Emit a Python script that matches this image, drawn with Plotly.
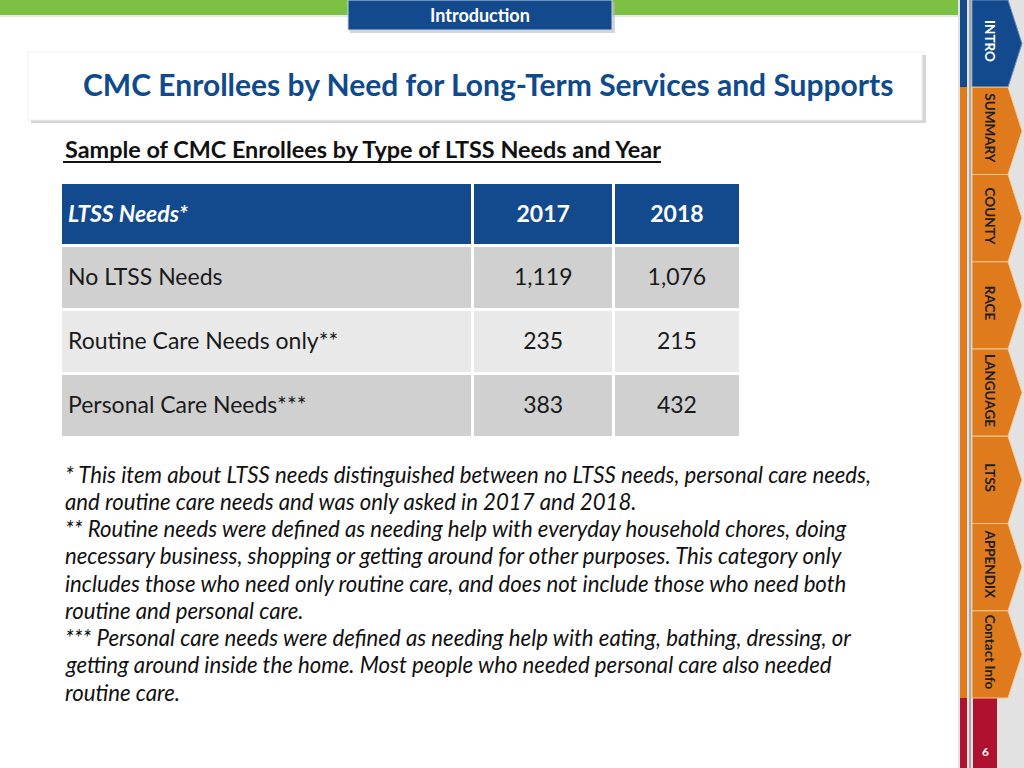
import plotly.graph_objects as go

# ---- data ----
needs = ["No LTSS Needs", "Routine Care Needs only**", "Personal Care Needs***"]
y2017 = [1119, 235, 383]
y2018 = [1076, 215, 432]
header = ["<b><i>LTSS Needs*</i></b>", "<b>2017</b>", "<b>2018</b>"]
tabs = ["INTRO", "SUMMARY", "COUNTY", "RACE", "LANGUAGE", "LTSS", "APPENDIX", "Contact Info"]
footnotes = [
    "* This item about LTSS needs distinguished between no LTSS needs, personal care needs,",
    "and routine care needs and was only asked in 2017 and 2018.",
    "** Routine needs were defined as needing help with everyday household chores, doing",
    "necessary business, shopping or getting around for other purposes. This category only",
    "includes those who need only routine care, and does not include those who need both",
    "routine and personal care.",
    "*** Personal care needs were defined as needing help with eating, bathing, dressing, or",
    "getting around inside the home. Most people who needed personal care also needed",
    "routine care.",
]
title = "CMC Enrollees by Need for Long-Term Services and Supports"
subtitle = "Sample of CMC Enrollees by Type of LTSS Needs and Year"
section = "Introduction"
page = "6"

FONT = "Lato"
BLUE = "#134a8e"
ORANGE = "#df7b1c"
RED = "#b0112f"
TRANSP = "rgba(0,0,0,0)"

W, H = 1024, 768
fig = go.Figure()

row_fills = ["#d0d0d0", "#e9e9e9", "#d0d0d0"]
colwidths = [412, 141, 126]

# table backgrounds
fig.add_trace(go.Table(
    domain=dict(x=[60 / W, 740 / W], y=[1 - 440 / H, 1 - 182 / H]),
    columnwidth=colwidths,
    header=dict(values=["", "", ""], fill_color=BLUE, line=dict(color="white", width=3), height=63),
    cells=dict(values=[[""] * 3] * 3, fill_color=[row_fills] * 3,
               line=dict(color="white", width=3), height=64),
))
# table text (transparent, offset to centre text vertically)
fig.add_trace(go.Table(
    domain=dict(x=[60 / W, 740 / W], y=[1 - 470 / H, 1 - 191 / H]),
    columnwidth=colwidths,
    header=dict(
        values=header,
        fill_color=TRANSP,
        line=dict(color=TRANSP, width=3),
        align=["left", "center", "center"],
        font=dict(family=FONT, size=23, color="white"),
        height=69,
    ),
    cells=dict(
        values=[needs, y2017, y2018],
        format=[None, ",d", ",d"],
        fill_color=TRANSP,
        line=dict(color=TRANSP, width=3),
        align=["left", "center", "center"],
        font=dict(family=FONT, size=23, color="#1a1a1a"),
        height=64,
    ),
))

shapes = []
# sidebar background
shapes.append(dict(type="rect", x0=958, x1=1024, y0=0, y1=768, fillcolor="#e2e2e2", line_width=0, layer="below"))
shapes.append(dict(type="rect", x0=960, x1=967, y0=0, y1=87, fillcolor=BLUE, line_width=0))
shapes.append(dict(type="rect", x0=960, x1=967, y0=87, y1=698, fillcolor=ORANGE, line_width=0))
shapes.append(dict(type="rect", x0=960, x1=967, y0=698, y1=768, fillcolor=RED, line_width=0))
shapes.append(dict(type="rect", x0=969, x1=971, y0=0, y1=768, fillcolor="#a8a8a8", line_width=0))
shapes.append(dict(type="rect", x0=973, x1=997, y0=698, y1=768, fillcolor=RED, line_width=0))

annotations = []
pitch = 698 / len(tabs)
for i, t in enumerate(tabs):
    top = i * pitch
    bot = (i + 1) * pitch
    mid = top + pitch * 0.5
    col = BLUE if i == 0 else ORANGE
    path = f"M 972,{top:.1f} L 1008,{top:.1f} L 1022,{mid:.1f} L 1008,{bot:.1f} L 972,{bot:.1f} Z"
    shapes.append(dict(type="path", path=path, fillcolor=col, line=dict(color="#f3c890" if i else "#6f8fbf", width=1)))
    annotations.append(dict(x=990, y=top + 41, xref="x", yref="y", text=f"<b>{t}</b>", textangle=90,
                            showarrow=False, font=dict(family=FONT, size=13.5,
                                                       color="white" if i == 0 else "#1e1e1e")))

annotations.append(dict(x=985, y=751, xref="x", yref="y", text=f"<b>{page}</b>", showarrow=False,
                        font=dict(family=FONT, size=12, color="white")))

# top green bar
shapes.append(dict(type="rect", x0=0, x1=958, y0=0, y1=15, fillcolor="#7cc143", line_width=0))
shapes.append(dict(type="rect", x0=0, x1=958, y0=15, y1=17, fillcolor="#e6e6e6", line_width=0))
# introduction box
shapes.append(dict(type="rect", x0=350, x1=615, y0=2, y1=33, fillcolor="#b9b9b9", line_width=0, opacity=0.6))
shapes.append(dict(type="rect", x0=348, x1=612, y0=0, y1=30, fillcolor=BLUE, line=dict(color="#c9d6e8", width=1)))
annotations.append(dict(x=480, y=15, xref="x", yref="y", text=f"<b>{section}</b>", showarrow=False,
                        font=dict(family=FONT, size=18, color="white")))
# title box
shapes.append(dict(type="rect", x0=31, x1=926, y0=55, y1=123, fillcolor="#c4c4c4", line_width=0, opacity=0.7))
shapes.append(dict(type="rect", x0=28, x1=922, y0=52, y1=120, fillcolor="white", line=dict(color="#f0f0f0", width=1)))
annotations.append(dict(x=488, y=84, xref="x", yref="y", text=f"<b>{title}</b>", showarrow=False,
                        font=dict(family=FONT, size=30, color="#0f4a8c")))
# subtitle
annotations.append(dict(x=63, y=149, xref="x", yref="y", xanchor="left", text=f"<b>{subtitle}</b>",
                        showarrow=False, font=dict(family=FONT, size=23.4, color="#111111")))
shapes.append(dict(type="line", x0=63, x1=661, y0=162, y1=162, line=dict(color="#111111", width=2)))

# footnotes
for k, line in enumerate(footnotes):
    annotations.append(dict(x=63, y=474 + k * 27.25, xref="x", yref="y", xanchor="left",
                            text=f"<i>{line}</i>", showarrow=False,
                            font=dict(family=FONT, size=22.2, color="#111111")))

fig.update_layout(
    width=W, height=H,
    margin=dict(l=0, r=0, t=0, b=0),
    paper_bgcolor="white", plot_bgcolor="rgba(0,0,0,0)",
    xaxis=dict(range=[0, W], visible=False, fixedrange=True),
    yaxis=dict(range=[H, 0], visible=False, fixedrange=True),
    shapes=shapes, annotations=annotations,
    showlegend=False,
)
fig.write_html("out.html", config={"displayModeBar": False},
               post_script="document.body.style.margin='0';document.body.style.overflow='hidden';")
